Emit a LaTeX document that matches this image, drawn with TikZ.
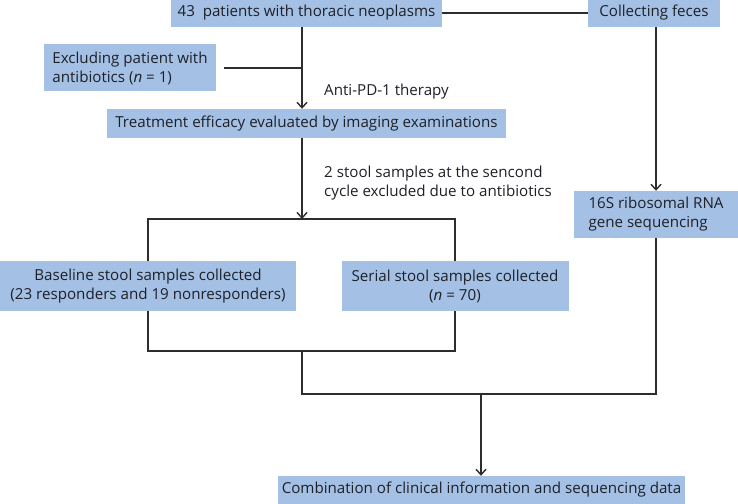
\documentclass[tikz,border=0pt]{standalone}
\usepackage{fontspec}
\setmainfont{Open Sans}
\usetikzlibrary{arrows.meta}
\definecolor{boxblue}{RGB}{164,193,229}
\definecolor{txt}{RGB}{30,32,40}
\definecolor{ln}{RGB}{45,45,45}
\begin{document}
\begin{tikzpicture}[x=1bp,y=-1bp,
  every node/.style={text=txt,font=\fontsize{15.2}{19}\selectfont},
  bluebox/.style={fill=boxblue,inner sep=0pt,align=center},
  conn/.style={draw=ln,line width=1.4bp},
  arr/.style={conn,-{Straight Barb[length=5.5bp,width=10bp]}}]
\useasboundingbox (0,0) rectangle (738,504);
% boxes
\node[bluebox,minimum width=271bp,minimum height=28bp] (pat) at (306.5,13) {43\ \ patients with thoracic neoplasms};
\node[bluebox,minimum width=132bp,minimum height=28bp] (coll) at (654,13) {Collecting feces};
\node[bluebox,minimum width=172bp,minimum height=47bp,align=left] (excl) at (130,68) {Excluding patient with\\antibiotics (\textit{n} = 1)};
\node[bluebox,minimum width=399bp,minimum height=29bp] (treat) at (306.5,123.5) {Treatment efficacy evaluated by imaging examinations};
\node[bluebox,minimum width=164bp,minimum height=47bp,align=left] (seq) at (656,214.5) {16S ribosomal RNA\\gene sequencing};
\node[bluebox,minimum width=296bp,minimum height=50bp] (base) at (148,286) {Baseline stool samples collected\\(23 responders and 19 nonresponders)};
\node[bluebox,minimum width=227bp,minimum height=50bp] (serial) at (455,286) {Serial stool samples collected\\(\textit{n} = 70)};
\node[bluebox,minimum width=407bp,minimum height=28bp] (comb) at (481.5,490) {Combination of clinical information and sequencing data};
% labels
\node[anchor=west,inner sep=0pt] (lab1) at (324,92) {Anti-PD-1 therapy};
\node[anchor=west,inner sep=0pt,align=left] (lab2) at (324,183) {2 stool samples at the sencond\\cycle excluded due to antibiotics};
% coordinates
\coordinate (v1) at (302,0);
\coordinate (top) at (302,219);
\coordinate (bot) at (302,351);
\coordinate (join) at (302,394);
\coordinate (joinr) at (656,394);
\coordinate (mid) at (481,394);
% connectors
\draw[conn] (pat.east) -- (coll.west);
\draw[arr] (pat.south -| v1) -- (treat.north -| v1);
\draw[conn] ([xshift=8bp]excl.east) -- (excl.east -| v1);
\draw[arr] (treat.south -| v1) -- (top);
\draw[conn] (base.north) |- (top) -| (serial.north);
\draw[conn] (base.south) |- (bot) -| (serial.south);
\draw[conn] (bot) -- (join) -- (joinr) -- (seq.south);
\draw[arr] (seq.north |- coll.south) -- (seq.north);
\draw[arr] (mid) -- (mid |- comb.north);
\end{tikzpicture}
\end{document}
